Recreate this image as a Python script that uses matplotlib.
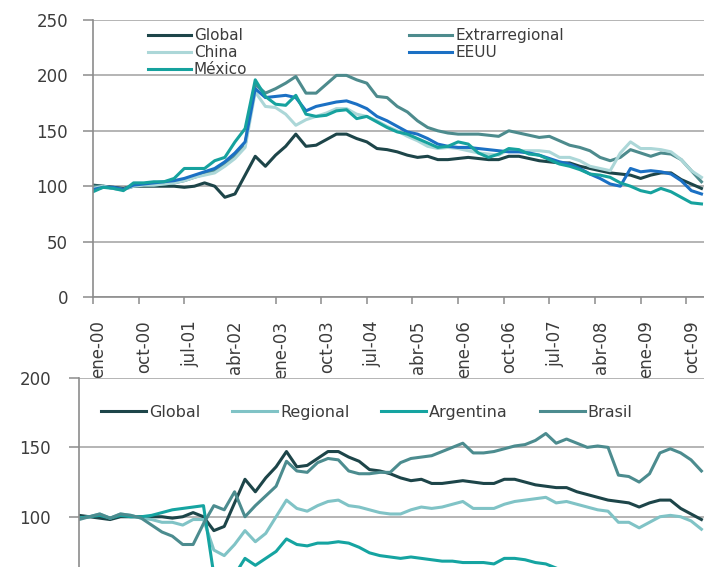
import numpy as np
import matplotlib
matplotlib.use("Agg")
import matplotlib.pyplot as plt
from matplotlib.transforms import ScaledTranslation

# months since ene-00, one value every two months
months = np.arange(0, 121, 2)

tick_pos = np.arange(0, 118, 9)
tick_labels = ["ene-00", "oct-00", "jul-01", "abr-02", "ene-03", "oct-03", "jul-04",
               "abr-05", "ene-06", "oct-06", "jul-07", "abr-08", "ene-09", "oct-09"]

global_idx = [101, 100, 99, 98, 100, 100, 100, 100, 100, 99, 100, 103, 100, 90, 93, 110,
              127, 118, 128, 136, 147, 136, 137, 142, 147, 147, 143, 140, 134, 133, 131,
              128, 126, 127, 124, 124, 125, 126, 125, 124, 124, 127, 127, 125, 123, 122,
              121, 121, 118, 116, 114, 112, 111, 110, 107, 110, 112, 112, 106, 102, 98]
extrarregional = [100, 100, 98, 97, 100, 101, 101, 102, 103, 105, 108, 111, 114, 120, 127, 137,
                  192, 184, 188, 193, 199, 184, 184, 192, 200, 200, 196, 193, 181, 180, 172,
                  167, 159, 153, 150, 148, 147, 147, 147, 146, 145, 150, 148, 146, 144, 145,
                  141, 137, 135, 132, 126, 123, 126, 133, 130, 127, 130, 129, 124, 114, 104]
china = [98, 100, 98, 97, 100, 101, 101, 102, 103, 105, 108, 110, 112, 118, 125, 135,
         185, 172, 171, 165, 155, 160, 163, 166, 170, 170, 165, 163, 159, 154, 150,
         145, 141, 136, 134, 135, 134, 132, 130, 129, 128, 133, 132, 132, 132, 131,
         126, 126, 123, 118, 116, 114, 130, 140, 134, 134, 133, 131, 124, 114, 108]
eeuu = [97, 99, 99, 97, 101, 102, 103, 104, 105, 107, 110, 113, 116, 122, 130, 140,
        188, 180, 181, 182, 180, 168, 172, 174, 176, 177, 174, 170, 163, 159, 154,
        149, 147, 143, 138, 136, 135, 135, 134, 133, 132, 131, 131, 130, 128, 125,
        122, 120, 116, 111, 107, 102, 100, 116, 113, 114, 113, 111, 105, 96, 93]
mexico = [95, 99, 98, 96, 103, 103, 104, 104, 107, 116, 116, 116, 123, 126, 140, 152,
          196, 181, 174, 173, 182, 165, 163, 164, 168, 169, 161, 163, 158, 153, 149,
          147, 143, 139, 135, 136, 140, 138, 130, 126, 129, 134, 133, 129, 128, 124,
          120, 118, 115, 111, 110, 108, 103, 100, 96, 94, 98, 95, 90, 85, 84]

regional = [99, 100, 102, 99, 102, 101, 99, 98, 96, 96, 94, 98, 98, 76, 72, 80,
            90, 82, 88, 100, 112, 106, 104, 108, 111, 112, 108, 107, 105, 103, 102,
            102, 105, 107, 106, 107, 109, 111, 106, 106, 106, 109, 111, 112, 113, 114,
            110, 111, 109, 107, 105, 104, 96, 96, 92, 96, 100, 101, 100, 97, 91]
argentina = [99, 100, 101, 99, 101, 100, 100, 101, 103, 105, 106, 107, 108, 58, 50, 58,
             70, 65, 70, 75, 84, 80, 79, 81, 81, 82, 81, 78, 74, 72, 71,
             70, 71, 70, 69, 68, 68, 67, 67, 67, 66, 70, 70, 69, 67, 66,
             63, 61, 60, 59, 58, 57, 56, 56, 55, 55, 55, 55, 54, 54, 54]
brasil = [98, 100, 102, 99, 102, 101, 99, 94, 89, 86, 80, 80, 95, 108, 105, 118,
          100, 108, 115, 122, 140, 133, 132, 139, 142, 141, 133, 131, 131, 132, 132,
          139, 142, 143, 144, 147, 150, 153, 146, 146, 147, 149, 151, 152, 155, 160,
          153, 156, 153, 150, 151, 150, 130, 129, 125, 131, 146, 149, 146, 141, 133]

C_GLOBAL = "#1d4549"
C_EXTRA = "#4d8b8d"
C_CHINA = "#acd7d8"
C_EEUU = "#1b70c4"
C_MEX = "#16a29e"
C_REG = "#80c3c6"
C_ARG = "#15a4a1"
C_BRA = "#4c8c8f"
GRID = "#a0a0a0"
TXT = "#3c3c3c"
LW = 2.2

fig = plt.figure(figsize=(7.04, 5.67), dpi=100)

ax1 = fig.add_axes([93 / 704, (567 - 297) / 567, (704 - 93) / 704, 277 / 567])
# lower chart runs past the bottom edge of the picture, as in the original crop
ax2 = fig.add_axes([79 / 704, (567 - 600) / 567, (704 - 79) / 704, (600 - 378) / 567])


def style(ax):
    ax.set_xlim(0, 120.5)
    ax.yaxis.grid(True, color=GRID, lw=1.1)
    ax.set_axisbelow(True)
    for s in ("top", "right"):
        ax.spines[s].set_visible(False)
    for s in ("left", "bottom"):
        ax.spines[s].set_color("#8c8c8c")
        ax.spines[s].set_linewidth(1.2)
    ax.tick_params(axis="y", length=7, width=1.1, color="#8c8c8c", labelsize=12,
                   labelcolor=TXT)
    ax.tick_params(axis="x", length=5, width=1.1, color="#8c8c8c", labelsize=12,
                   labelcolor=TXT, pad=12)
    ax.set_xticks(tick_pos)


# top chart
style(ax1)
ax1.set_ylim(0, 250)
ax1.set_yticks(range(0, 251, 50))
ax1.tick_params(axis="y", pad=11)
ax1.set_xticklabels(tick_labels, rotation=90)
for lab in ax1.get_xticklabels():
    lab.set_transform(lab.get_transform() + ScaledTranslation(4 / 72, 0, fig.dpi_scale_trans))
ax1.xaxis.get_major_ticks()[3].tick1line.set_visible(False)

l_glob, = ax1.plot(months, global_idx, color=C_GLOBAL, lw=LW, label="Global")
l_extra, = ax1.plot(months, extrarregional, color=C_EXTRA, lw=LW, label="Extrarregional")
l_china, = ax1.plot(months, china, color=C_CHINA, lw=LW, label="China")
l_eeuu, = ax1.plot(months, eeuu, color=C_EEUU, lw=LW, label="EEUU")
l_mex, = ax1.plot(months, mexico, color=C_MEX, lw=LW, label="México")

ax1.legend(handles=[l_glob, l_china, l_mex, l_extra, l_eeuu], ncol=2,
           loc="upper left", bbox_to_anchor=(0.09, 0.97), frameon=False,
           fontsize=11, handlelength=2.8, handletextpad=0.2, labelspacing=0.12,
           columnspacing=10.6, borderpad=0, borderaxespad=0, labelcolor=TXT)

# bottom chart
style(ax2)
ax2.set_ylim(40, 200)
ax2.set_yticks([100, 150, 200])
ax2.tick_params(axis="y", pad=13)
ax2.tick_params(axis="x", labelbottom=False)

ax2.plot(months, global_idx, color=C_GLOBAL, lw=LW, label="Global")
ax2.plot(months, regional, color=C_REG, lw=LW, label="Regional")
ax2.plot(months, argentina, color=C_ARG, lw=LW, label="Argentina")
ax2.plot(months, brasil, color=C_BRA, lw=LW, label="Brasil")

ax2.legend(ncol=4, loc="center left", bbox_to_anchor=(0.035, 0.845), frameon=False,
           fontsize=11.5, handlelength=2.8, handletextpad=0.2, columnspacing=2.0,
           borderpad=0, borderaxespad=0, labelcolor=TXT)

fig.savefig("out.png", dpi=100)
